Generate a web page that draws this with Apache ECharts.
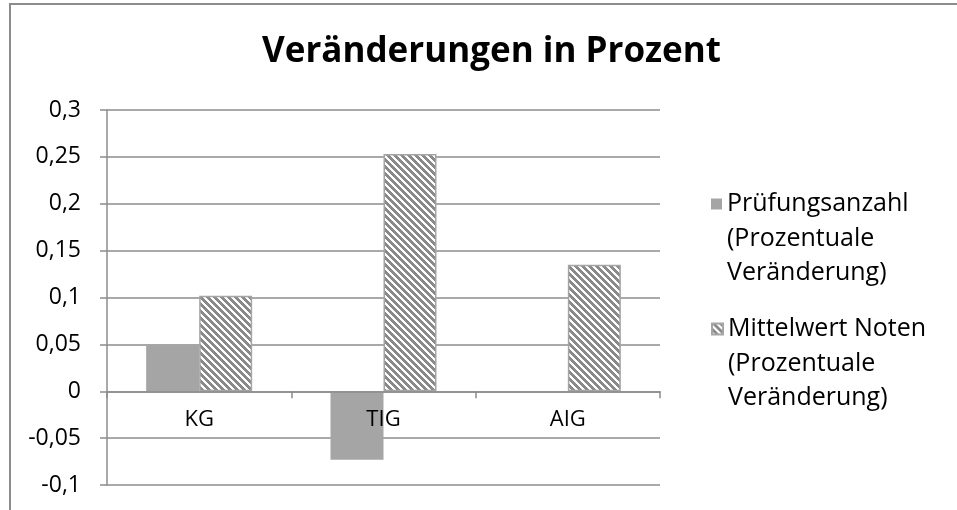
<!DOCTYPE html>
<html>
<head>
<meta charset="utf-8">
<script src="https://cdn.jsdelivr.net/npm/echarts@6/dist/echarts.min.js"></script>
<style>
  html, body { margin: 0; padding: 0; background: #fff; }
  #main { width: 957px; height: 510px; }
</style>
</head>
<body>
<div id="main"></div>
<script>
const categories = ['KG', 'TIG', 'AIG']
const pruefungsanzahl = [0.05, -0.073, 0]
const mittelwertNoten = [0.102, 0.253, 0.135]
const nameA = 'Prüfungsanzahl (Prozentuale Veränderung)'
const nameB = 'Mittelwert Noten (Prozentuale Veränderung)'

const FONT = '"Open Sans", "Noto Sans", sans-serif'
const GRID_GRAY = '#8c8c8c'
const BAR_GRAY = '#a5a5a5'
const LH = 34.5

// diagonal hatch tile, stripes running top-left to bottom-right
const makeHatch = () => {
    const n = 7
    const c = document.createElement('canvas')
    c.width = n
    c.height = n
    const ctx = c.getContext('2d')
    ctx.fillStyle = '#fff'
    ctx.fillRect(0, 0, n, n)
    ctx.fillStyle = '#8a8a8a'
    for (let y = 0; y < n; y++) {
        for (let x = 0; x < n; x++) {
            if ((((x - y) % n) + n) % n < 4) ctx.fillRect(x, y, 1, 1)
        }
    }
    return c
}

// two empty lines first so the icon sits beside the first real line
const legendFormatter = (name) => {
    if (name === nameA) return '\n\nPrüfungsanzahl\n(Prozentuale\nVeränderung)'
    return '\n\nMittelwert Noten\n(Prozentuale\nVeränderung)'
}

const legendBase = {
    orient: 'vertical',
    left: 711,
    padding: 0,
    itemWidth: 11,
    itemHeight: 11,
    itemGap: 0,
    icon: 'rect',
    formatter: legendFormatter,
    textStyle: {
        fontFamily: FONT,
        fontSize: 25,
        color: '#000',
        lineHeight: LH
    },
    selectedMode: false
}

let chart = echarts.init(document.getElementById('main'), null, { renderer: 'canvas' })
let option = {
    animation: false,
    backgroundColor: '#fff',
    title: {
        text: 'Veränderungen in Prozent',
        left: 262,
        top: 35,
        padding: 0,
        textStyle: {
            fontFamily: FONT,
            fontSize: 35,
            fontWeight: 'bold',
            color: '#000'
        }
    },
    graphic: [
        {
            type: 'rect',
            silent: true,
            shape: { x: 10, y: 4, width: 1000, height: 600 },
            style: { fill: 'none', stroke: GRID_GRAY, lineWidth: 2 }
        }
    ],
    legend: [
        Object.assign({}, legendBase, { data: [nameA], top: 204 - 2.5 * LH }),
        Object.assign({}, legendBase, { data: [nameB], top: 329 - 2.5 * LH })
    ],
    grid: {
        left: 107,
        right: 297,
        top: 110,
        bottom: 25,
        containLabel: false,
        outerBoundsMode: 'none'
    },
    xAxis: {
        type: 'category',
        data: categories,
        z: 3,
        axisLine: { onZero: true, lineStyle: { color: GRID_GRAY, width: 1.5 } },
        axisTick: { show: true, length: 7, interval: 0, lineStyle: { color: GRID_GRAY, width: 1.5 } },
        axisLabel: {
            // labels sit just under the zero line, like the original
            margin: -76,
            fontFamily: FONT,
            fontSize: 22,
            color: '#000'
        }
    },
    yAxis: {
        type: 'value',
        min: -0.1,
        max: 0.3,
        interval: 0.05,
        axisLine: { show: true, lineStyle: { color: GRID_GRAY, width: 1.5 } },
        axisTick: { show: true, length: 7, lineStyle: { color: GRID_GRAY, width: 1.5 } },
        splitLine: { show: true, lineStyle: { color: GRID_GRAY, width: 1.5 } },
        axisLabel: {
            margin: 26,
            fontFamily: FONT,
            fontSize: 23,
            color: '#000',
            formatter: (v) => String(parseFloat(v.toFixed(2))).replace('.', ',')
        }
    },
    series: [
        {
            name: nameA,
            type: 'bar',
            data: pruefungsanzahl,
            barWidth: 53,
            barGap: '0%',
            itemStyle: { color: BAR_GRAY }
        },
        {
            name: nameB,
            type: 'bar',
            data: mittelwertNoten,
            barWidth: 53,
            barGap: '0%',
            itemStyle: {
                color: { image: makeHatch(), repeat: 'repeat' },
                borderColor: BAR_GRAY,
                borderWidth: 1.5
            }
        }
    ]
}

option && chart.setOption(option)
</script>
</body>
</html>
